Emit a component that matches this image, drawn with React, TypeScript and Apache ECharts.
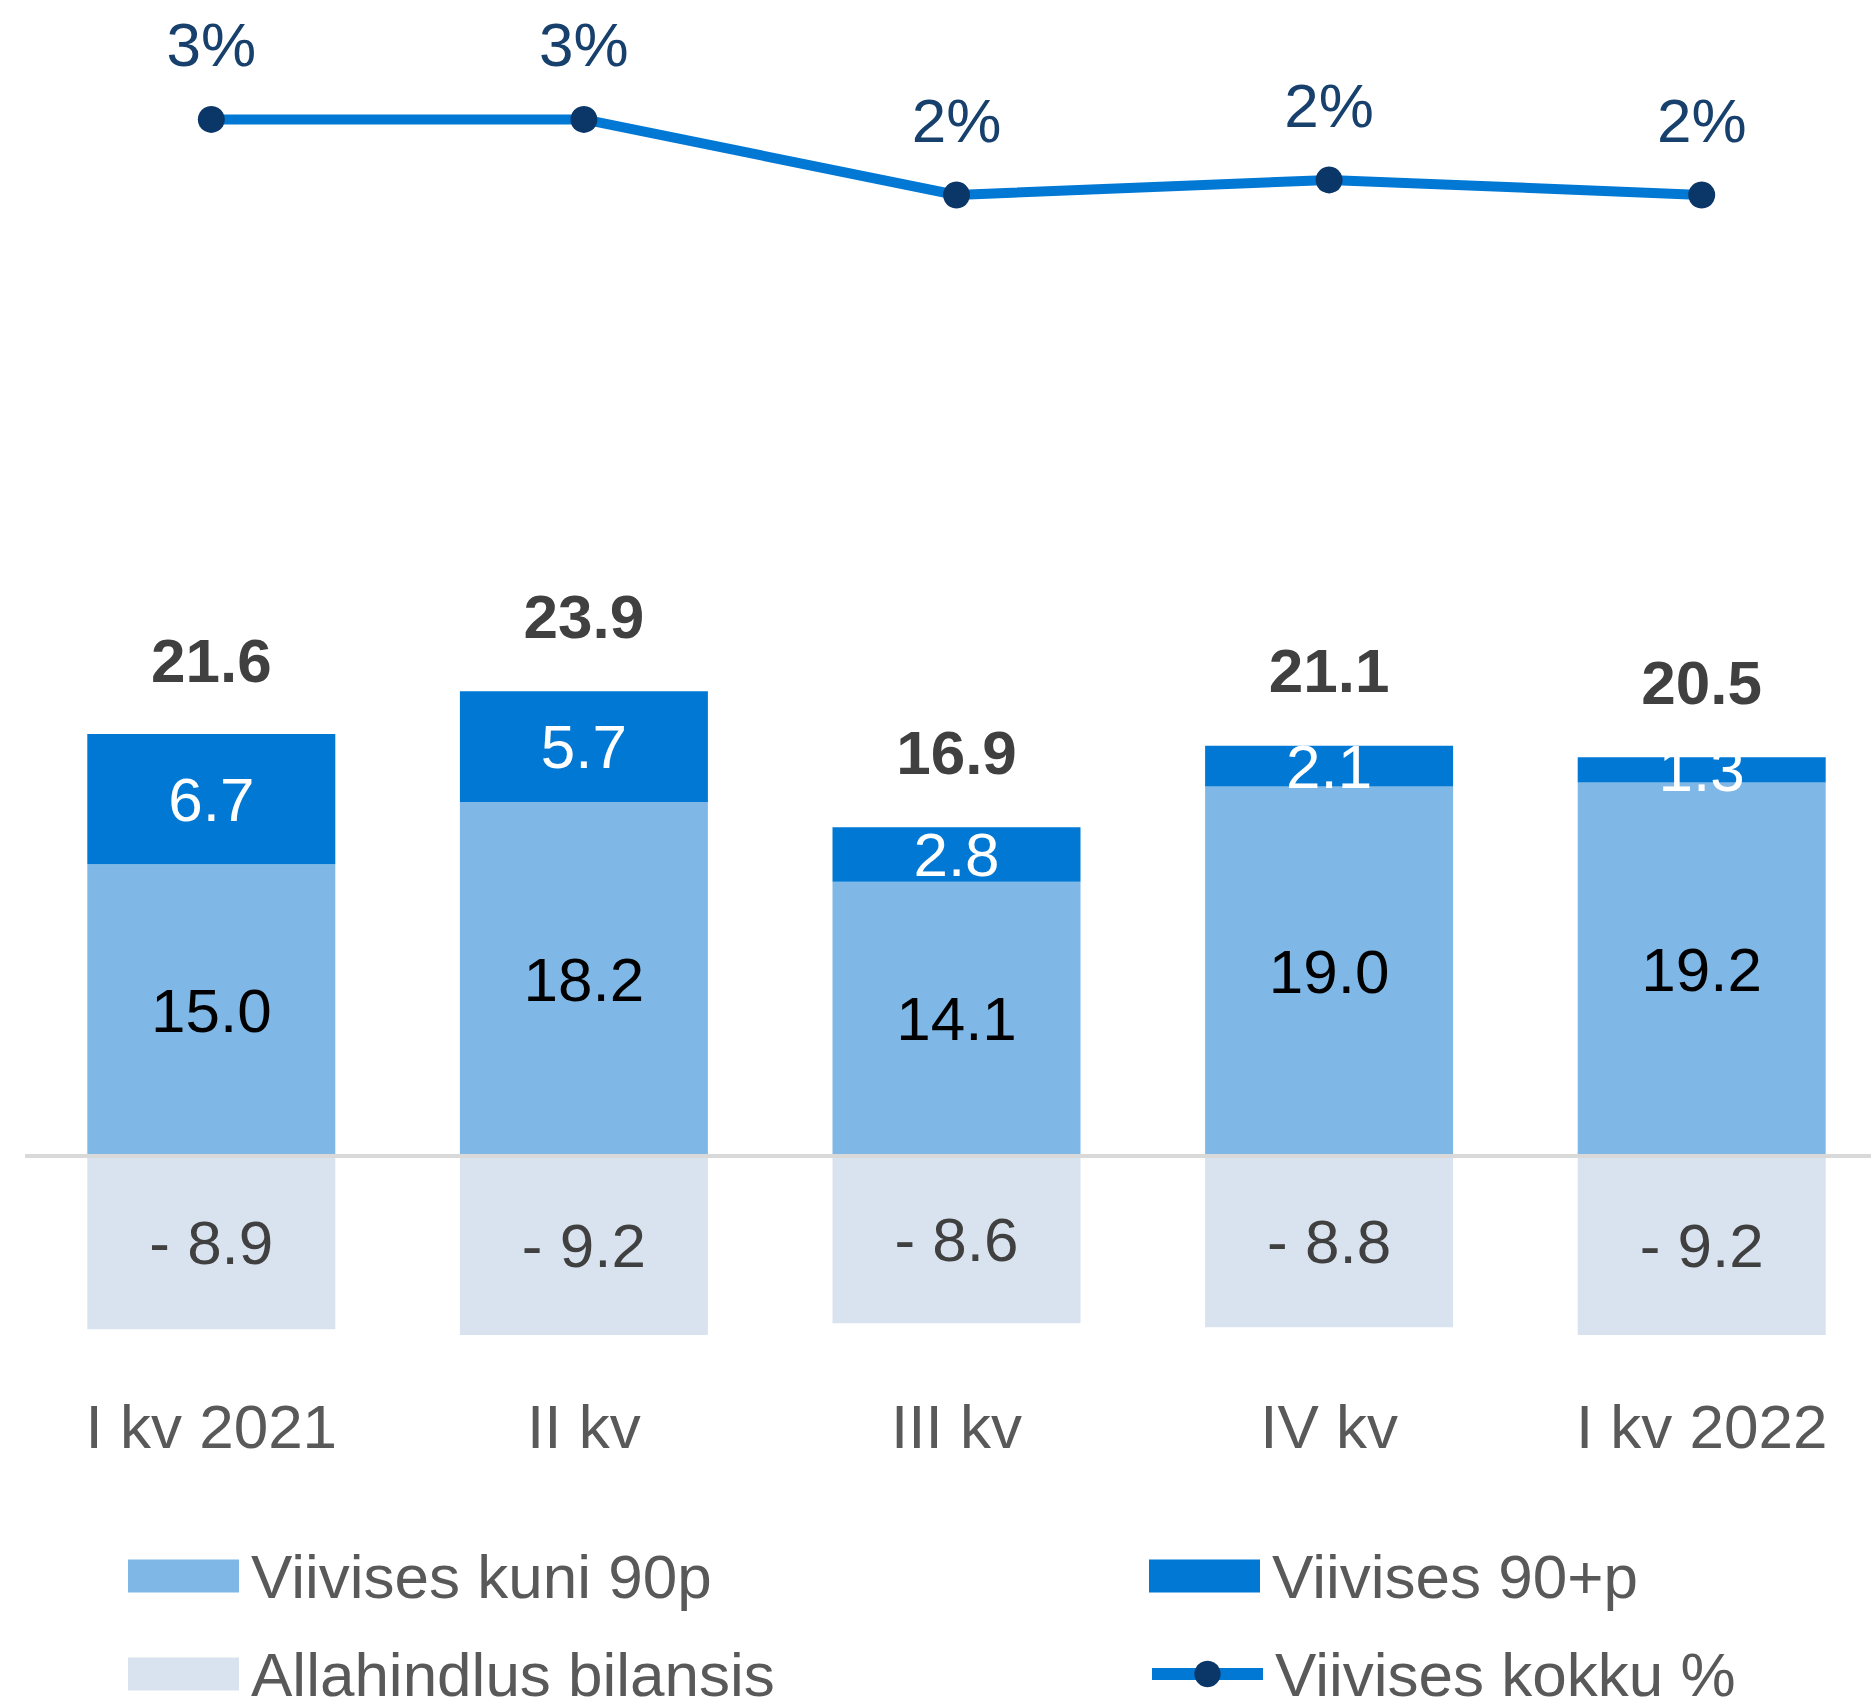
import React, { useEffect, useRef } from "react";
import * as echarts from "echarts";

const categories = ["I kv 2021", "II kv", "III kv", "IV kv", "I kv 2022"];
const upTo90 = [15.0, 18.2, 14.1, 19.0, 19.2];
const over90 = [6.7, 5.7, 2.8, 2.1, 1.3];
const allowance = [-8.9, -9.2, -8.6, -8.8, -9.2];
const totals = [21.6, 23.9, 16.9, 21.1, 20.5];
const overduePct = [2.6, 2.6, 2.0, 2.12, 2.0];

const FONT = "'Liberation Sans', Arial, sans-serif";
const C_LIGHT = "#7FB8E6";
const C_DARK = "#0078D4";
const C_PALE = "#D9E3EF";
const C_NAVY = "#0B3668";
const GRID_LEFT = 25;
const GRID_WIDTH = 1863;
const BAR_W = 248;
const FS = 62;

export default function App() {
  const ref = useRef<HTMLDivElement>(null);
  useEffect(() => {
    document.body.style.margin = "0";
    const chart = echarts.init(ref.current!, null, { renderer: "svg" });
    const legendBase = {
      itemWidth: 111,
      itemHeight: 33,
      padding: 0,
      textStyle: { fontSize: FS, color: "#595959", fontFamily: FONT, padding: [0, 0, 0, 7] },
    };
    chart.setOption({
      animation: false,
      textStyle: { fontFamily: FONT },
      grid: [
        { left: GRID_LEFT, width: GRID_WIDTH, top: 69, height: 189, containLabel: false, outerBoundsMode: "none" },
        { left: GRID_LEFT, width: GRID_WIDTH, top: 572.5, height: 817, containLabel: false, outerBoundsMode: "none" },
      ],
      xAxis: [
        { type: "category", data: categories, gridIndex: 0, show: false },
        {
          type: "category",
          data: categories,
          gridIndex: 1,
          axisLine: { show: false },
          axisTick: { show: false },
          axisLabel: { fontSize: FS, color: "#595959", fontFamily: FONT, margin: 6 },
        },
      ],
      yAxis: [
        { type: "value", gridIndex: 0, min: 1.5, max: 3.0, show: false },
        { type: "value", gridIndex: 1, min: -12, max: 30, show: false },
      ],
      legend: [
        { ...legendBase, icon: "rect", left: 128, top: 1545, data: ["Viivises kuni 90p"] },
        { ...legendBase, icon: "rect", left: 1149, top: 1545, data: ["Viivises 90+p"] },
        { ...legendBase, icon: "rect", left: 128, top: 1643, data: ["Allahindlus bilansis"] },
        { ...legendBase, left: 1146, top: 1643, lineStyle: { width: 12 }, data: ["Viivises kokku %"] },
      ],
      series: [
        {
          name: "Viivises kuni 90p",
          type: "bar",
          xAxisIndex: 1,
          yAxisIndex: 1,
          stack: "pos",
          barWidth: BAR_W,
          barGap: "-100%",
          data: upTo90,
          itemStyle: { color: C_LIGHT },
          label: {
            show: true,
            position: "inside",
            fontSize: FS,
            color: "#000000",
            fontFamily: FONT,
            formatter: (p: any) => p.value.toFixed(1),
          },
          markLine: {
            silent: true,
            symbol: "none",
            label: { show: false },
            lineStyle: { color: "#D9D9D9", width: 4, type: "solid" },
            data: [{ yAxis: 0 }],
            z: 10,
          },
        },
        {
          name: "Viivises 90+p",
          type: "bar",
          xAxisIndex: 1,
          yAxisIndex: 1,
          stack: "pos",
          barWidth: BAR_W,
          barGap: "-100%",
          data: over90,
          itemStyle: { color: C_DARK },
          label: {
            show: true,
            position: "inside",
            fontSize: FS,
            color: "#FFFFFF",
            fontFamily: FONT,
            formatter: (p: any) => p.value.toFixed(1),
          },
        },
        {
          name: "Allahindlus bilansis",
          type: "bar",
          xAxisIndex: 1,
          yAxisIndex: 1,
          stack: "neg",
          barWidth: BAR_W,
          barGap: "-100%",
          data: allowance,
          itemStyle: { color: C_PALE },
          label: {
            show: true,
            position: "inside",
            fontSize: FS,
            color: "#404040",
            fontFamily: FONT,
            formatter: (p: any) => "- " + Math.abs(p.value).toFixed(1),
          },
        },
        {
          name: "Kokku",
          type: "bar",
          xAxisIndex: 1,
          yAxisIndex: 1,
          barWidth: BAR_W,
          barGap: "-100%",
          data: totals,
          silent: true,
          itemStyle: { color: "rgba(0,0,0,0)" },
          z: 1,
          label: {
            show: true,
            position: "top",
            distance: 44,
            fontSize: FS,
            fontWeight: "bold",
            color: "#404040",
            fontFamily: FONT,
            formatter: (p: any) => p.value.toFixed(1),
          },
        },
        {
          name: "Viivises kokku %",
          type: "line",
          xAxisIndex: 0,
          yAxisIndex: 0,
          data: overduePct,
          symbol: "circle",
          symbolSize: 27,
          lineStyle: { color: C_DARK, width: 10 },
          itemStyle: { color: C_NAVY },
          label: {
            show: true,
            position: "top",
            distance: 30,
            fontSize: FS,
            color: "#17406D",
            fontFamily: FONT,
            formatter: (p: any) => Math.round(p.value) + "%",
          },
        },
      ],
    });
    return () => chart.dispose();
  }, []);
  return <div ref={ref} style={{ width: 1871, height: 1701 }} />;
}
